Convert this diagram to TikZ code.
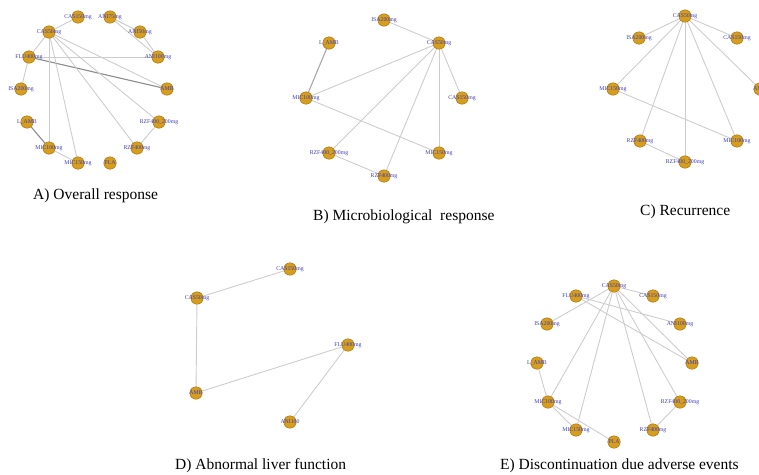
\documentclass[tikz,border=0pt]{standalone}
\usepackage{fontspec}
\setmainfont{Liberation Serif}
\usetikzlibrary{backgrounds}
\definecolor{nodefill}{RGB}{214,158,28}
\definecolor{nodeedge}{RGB}{160,110,20}
\definecolor{labblue}{RGB}{60,60,190}
\definecolor{edgegray}{RGB}{205,205,205}
\definecolor{darkedge}{RGB}{140,140,140}
\tikzset{
  dot/.style={circle,fill=nodefill,draw=nodeedge,line width=0.4pt,minimum size=12.5pt,inner sep=0pt},
  lab/.style={text=labblue,font=\fontsize{5.8}{6}\selectfont,inner sep=0pt},
  edge/.style={draw=edgegray,line width=0.9pt},
  dedge/.style={draw=darkedge,line width=1.1pt},
  title/.style={font=\fontsize{15.5}{17}\selectfont,anchor=west,inner sep=0pt},
}
\newcommand{\gnode}[3]{\node[dot,label={[lab]center:#3}] (#1) at (#2) {};}
\begin{document}
\begin{tikzpicture}[x=1pt,y=-1pt]
\useasboundingbox (0,0) rectangle (759,474);
\clip (0,0) rectangle (759,474);
% ---------- Panel A ----------
\gnode{aC150}{78,17}{CAS150mg}
\gnode{aA75}{110,17}{ANI75mg}
\gnode{aA50}{140,32}{ANI50mg}
\gnode{aA100}{158,57}{ANI100mg}
\gnode{aAMB}{167,89}{AMB}
\gnode{aR42}{159,122}{RZF400\_200mg}
\gnode{aR4}{137,148}{RZF400mg}
\gnode{aPLA}{110,163}{PLA}
\gnode{aM150}{78,163}{MIC150mg}
\gnode{aM100}{49,148}{MIC100mg}
\gnode{aLAMB}{27,122}{L\_AMB}
\gnode{aISA}{21,89}{ISA200mg}
\gnode{aFLU}{29,57}{FLU400mg}
\gnode{aC50}{49,32}{CAS50mg}
\begin{scope}[on background layer]
\draw[edge] (aC50)--(aC150);
\draw[edge] (aA75)--(aA50);
\draw[edge] (aA75)--(aA100);
\draw[edge] (aA50)--(aA100);
\draw[edge] (aFLU)--(aA100);
\draw[dedge] (aFLU)--(aAMB);
\draw[edge] (aC50)--(aAMB);
\draw[edge] (aC50)--(aR42);
\draw[edge] (aC50)--(aR4);
\draw[edge] (aC50)--(aM150);
\draw[edge] (aC50)--(aM100);
\draw[edge] (aC50)--(aFLU);
\draw[edge] (aFLU)--(aISA);
\draw[dedge] (aLAMB)--(aM100);
\draw[edge] (aM100)--(aM150);
\draw[edge] (aR42)--(aR4);
\end{scope}
\node[title] (tA) at (33,196) {A) Overall response};
% ---------- Panel B ----------
\gnode{bISA}{384,20}{ISA200mg}
\gnode{bC50}{439,43}{CAS50mg}
\gnode{bLAMB}{329,43}{L\_AMB}
\gnode{bM100}{306,98}{MIC100mg}
\gnode{bC150}{462,98}{CAS150mg}
\gnode{bR42}{329,153}{RZF400\_200mg}
\gnode{bM150}{439,153}{MIC150mg}
\gnode{bR4}{384,176}{RZF400mg}
\begin{scope}[on background layer]
\draw[edge] (bISA)--(bC50);
\draw[dedge,draw=darkedge!75] (bLAMB)--(bM100);
\draw[edge] (bC50)--(bM100);
\draw[edge] (bC50)--(bC150);
\draw[edge] (bC50)--(bR42);
\draw[edge] (bC50)--(bR4);
\draw[edge] (bC50)--(bM150);
\draw[edge] (bM100)--(bM150);
\draw[edge] (bR42)--(bR4);
\end{scope}
\node[title] (tB) at (313,217) {B) Microbiological\ \ response};
% ---------- Panel C ----------
\gnode{cC50}{685,16}{CAS50mg}
\gnode{cISA}{639,38}{ISA200mg}
\gnode{cC150}{737,38}{CAS150mg}
\gnode{cM150}{613,89}{MIC150mg}
\gnode{cAMB}{760,89}{AMB}
\gnode{cR4}{640,141}{RZF400mg}
\gnode{cM100}{737,141}{MIC100mg}
\gnode{cR42}{685,162}{RZF400\_200mg}
\begin{scope}[on background layer]
\draw[edge] (cC50)--(cISA);
\draw[edge] (cC50)--(cC150);
\draw[edge] (cC50)--(cM150);
\draw[edge] (cC50)--(cAMB);
\draw[edge] (cC50)--(cR4);
\draw[edge] (cC50)--(cR42);
\draw[edge] (cC50)--(cM100);
\draw[edge] (cM150)--(cM100);
\draw[edge] (cR4)--(cR42);
\end{scope}
\node[title] (tC) at (640,212) {C) Recurrence};
% ---------- Panel D ----------
\gnode{dC150}{290,269}{CAS150mg}
\gnode{dC50}{197,298}{CAS50mg}
\gnode{dFLU}{348,345}{FLU400mg}
\gnode{dAMB}{196,393}{AMB}
\gnode{dA100}{290,422}{ANI100}
\begin{scope}[on background layer]
\draw[edge] (dC50)--(dC150);
\draw[edge] (dC50)--(dAMB);
\draw[edge] (dAMB)--(dFLU);
\draw[edge] (dFLU)--(dA100);
\end{scope}
\node[title] (tD) at (175,466) {D) Abnormal liver function};
% ---------- Panel E ----------
\gnode{eC50}{614,286}{CAS50mg}
\gnode{eC150}{653,296}{CAS150mg}
\gnode{eFLU}{576,296}{FLU400mg}
\gnode{eISA}{547,324}{ISA200mg}
\gnode{eA100}{680,324}{ANI100mg}
\gnode{eLAMB}{537,363}{L\_AMB}
\gnode{eAMB}{692,363}{AMB}
\gnode{eM100}{548,402}{MIC100mg}
\gnode{eR42}{680,402}{RZF400\_200mg}
\gnode{eM150}{576,430}{MIC150mg}
\gnode{eR4}{653,430}{RZF400mg}
\gnode{ePLA}{614,442}{PLA}
\begin{scope}[on background layer]
\draw[edge] (eC50)--(eC150);
\draw[edge] (eC50)--(eISA);
\draw[edge] (eFLU)--(eA100);
\draw[edge] (eFLU)--(eAMB);
\draw[edge] (eC50)--(eAMB);
\draw[edge] (eC50)--(eM100);
\draw[edge] (eC50)--(eM150);
\draw[edge] (eC50)--(eR4);
\draw[edge] (eC50)--(eR42);
\draw[edge] (eLAMB)--(eM100);
\draw[edge] (eM100)--(ePLA);
\draw[edge] (eM100)--(eM150);
\draw[edge] (eR42)--(eR4);
\end{scope}
\node[title] (tE) at (500,466) {E) Discontinuation due adverse events};
\end{tikzpicture}
\end{document}
